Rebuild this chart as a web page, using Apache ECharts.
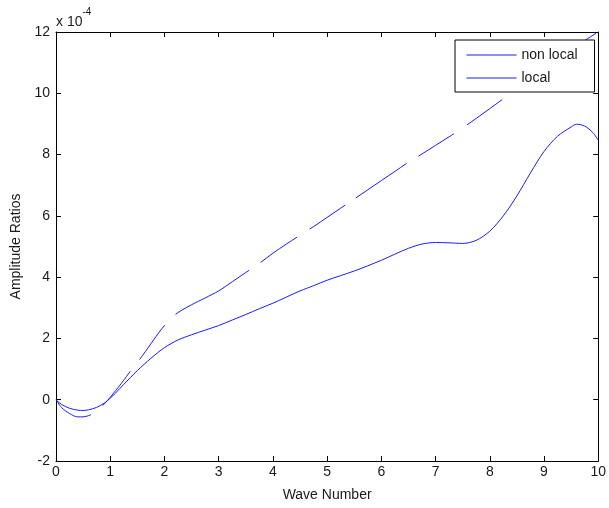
<!DOCTYPE html>
<html>
<head>
<meta charset="utf-8">
<script src="https://cdn.jsdelivr.net/npm/echarts@6/dist/echarts.min.js"></script>
<style>html,body{margin:0;padding:0;background:#fff;}#c{width:609px;height:508px;}</style>
</head>
<body>
<div id="c"></div>
<script>
// Data (amplitude ratios in units of 1e-4)
const xNonLocal = [0, 0.1, 0.25, 0.4, 0.5, 0.6, 0.7, 0.8, 0.9, 1.0, 1.1, 1.2, 1.3, 1.4, 1.5, 1.6, 1.7, 1.8, 1.9, 2.0, 2.1, 2.2, 2.3, 2.5, 2.75, 3.0, 3.25, 3.5, 3.75, 4.0, 4.25, 4.5, 4.75, 5.0, 5.25, 5.5, 5.75, 6.0, 6.25, 6.5, 6.75, 7.0, 7.25, 7.5, 7.75, 8.0, 8.25, 8.5, 8.75, 9.0, 9.25, 9.5, 9.75, 10.0];
const yNonLocal = [0, -0.25, -0.45, -0.56, -0.56, -0.52, -0.44, -0.3, -0.12, 0.08, 0.3, 0.52, 0.76, 1.0, 1.22, 1.45, 1.7, 1.95, 2.2, 2.42, 2.62, 2.78, 2.9, 3.1, 3.32, 3.55, 3.85, 4.15, 4.45, 4.78, 5.08, 5.37, 5.65, 5.95, 6.25, 6.55, 6.85, 7.15, 7.45, 7.75, 8.02, 8.3, 8.58, 8.87, 9.18, 9.5, 9.82, 10.15, 10.48, 10.8, 11.1, 11.4, 11.72, 12.0];
const xLocal = [0, 0.1, 0.25, 0.4, 0.5, 0.6, 0.75, 0.9, 1.0, 1.1, 1.25, 1.5, 1.75, 2.0, 2.25, 2.5, 2.75, 3.0, 3.25, 3.5, 3.75, 4.0, 4.25, 4.5, 4.75, 5.0, 5.25, 5.5, 5.75, 6.0, 6.25, 6.5, 6.75, 7.0, 7.25, 7.5, 7.75, 8.0, 8.25, 8.5, 8.75, 9.0, 9.25, 9.5, 9.6, 9.75, 9.9, 10.0];
const yLocal = [0, -0.15, -0.28, -0.34, -0.35, -0.33, -0.25, -0.1, 0.05, 0.22, 0.5, 0.95, 1.35, 1.7, 1.95, 2.12, 2.27, 2.42, 2.6, 2.78, 2.97, 3.15, 3.35, 3.55, 3.72, 3.9, 4.05, 4.2, 4.37, 4.55, 4.75, 4.94, 5.08, 5.13, 5.12, 5.1, 5.2, 5.5, 6.0, 6.65, 7.4, 8.1, 8.6, 8.9, 8.99, 8.93, 8.72, 8.47];
const xTicks = [0, 1, 2, 3, 4, 5, 6, 7, 8, 9, 10];
const yTicks = [-2, 0, 2, 4, 6, 8, 10, 12];
const seriesNames = ['non local', 'local'];

const zip = (xs, ys) => xs.map((x, i) => [x, ys[i]]);
const chart = echarts.init(document.getElementById('c'));
const font = '"Liberation Sans", Arial, sans-serif';
const txt = '#1a1a1a';
const baseX = {
  type: 'value', min: xTicks[0], max: xTicks[xTicks.length - 1], interval: 1,
  axisLine: { show: true, onZero: false, lineStyle: { color: '#000', width: 1 } },
  axisTick: { show: true, inside: true, length: 5, lineStyle: { color: '#000' } },
  splitLine: { show: false }
};
const baseY = {
  type: 'value', min: yTicks[0], max: yTicks[yTicks.length - 1], interval: 2,
  axisLine: { show: true, onZero: false, lineStyle: { color: '#000', width: 1 } },
  axisTick: { show: true, inside: true, length: 5, lineStyle: { color: '#000' } },
  splitLine: { show: false }
};
chart.setOption({
  animation: false,
  backgroundColor: '#fff',
  grid: { left: 56, right: 9, top: 32, bottom: 47, containLabel: false },
  xAxis: [
    Object.assign({}, baseX, {
      position: 'bottom', name: 'Wave Number', nameLocation: 'middle', nameGap: 27,
      nameTextStyle: { fontFamily: font, fontSize: 14, color: txt },
      axisLabel: { fontFamily: font, fontSize: 14, color: txt, margin: 4 }
    }),
    Object.assign({}, baseX, { position: 'top', axisLabel: { show: false } })
  ],
  yAxis: [
    Object.assign({}, baseY, {
      position: 'left', name: 'Amplitude Ratios', nameLocation: 'middle', nameGap: 31,
      nameTextStyle: { fontFamily: font, fontSize: 14, color: txt },
      axisLabel: { fontFamily: font, fontSize: 14, color: txt, margin: 6 }
    }),
    Object.assign({}, baseY, { position: 'right', axisLabel: { show: false } })
  ],
  legend: {
    show: true,
    orient: 'vertical', left: 455, top: 40,
    padding: [8, 17, 7, 11], itemGap: 9, itemWidth: 50, itemHeight: 14,
    backgroundColor: '#fff', borderColor: '#000', borderWidth: 1,
    textStyle: { fontFamily: font, fontSize: 14, color: txt },
    itemStyle: { opacity: 0 },
    lineStyle: { width: 1 },
    data: [
      { name: seriesNames[0], lineStyle: { type: 'solid', width: 1 } },
      { name: seriesNames[1], lineStyle: { type: 'solid', width: 1 } }
    ]
  },
  graphic: [{
    type: 'text', left: 56, top: 7,
    style: {
      text: '{a|x 10}{b|-4}',
      rich: {
        a: { fontFamily: font, fontSize: 14, fill: txt, padding: [8, 0, 0, 0] },
        b: { fontFamily: font, fontSize: 10, fill: txt, verticalAlign: 'top' }
      }
    }
  }],
  series: [
    {
      name: seriesNames[0], type: 'line', xAxisIndex: 0, yAxisIndex: 0,
      data: zip(xNonLocal, yNonLocal), showSymbol: false, symbol: 'none', smooth: 0.3,
      lineStyle: { color: '#1a1aff', width: 1, type: [42, 15, 44, 15, 43, 15, 86, 14, 44, 15, 43, 13, 61, 14, 42, 16, 43, 14] },
      itemStyle: { color: '#1a1aff' }
    },
    {
      name: seriesNames[1], type: 'line', xAxisIndex: 0, yAxisIndex: 0,
      data: zip(xLocal, yLocal), showSymbol: false, symbol: 'none', smooth: 0.3,
      lineStyle: { color: '#1a1aff', width: 1 },
      itemStyle: { color: '#1a1aff' }
    }
  ]
});
</script>
</body>
</html>
